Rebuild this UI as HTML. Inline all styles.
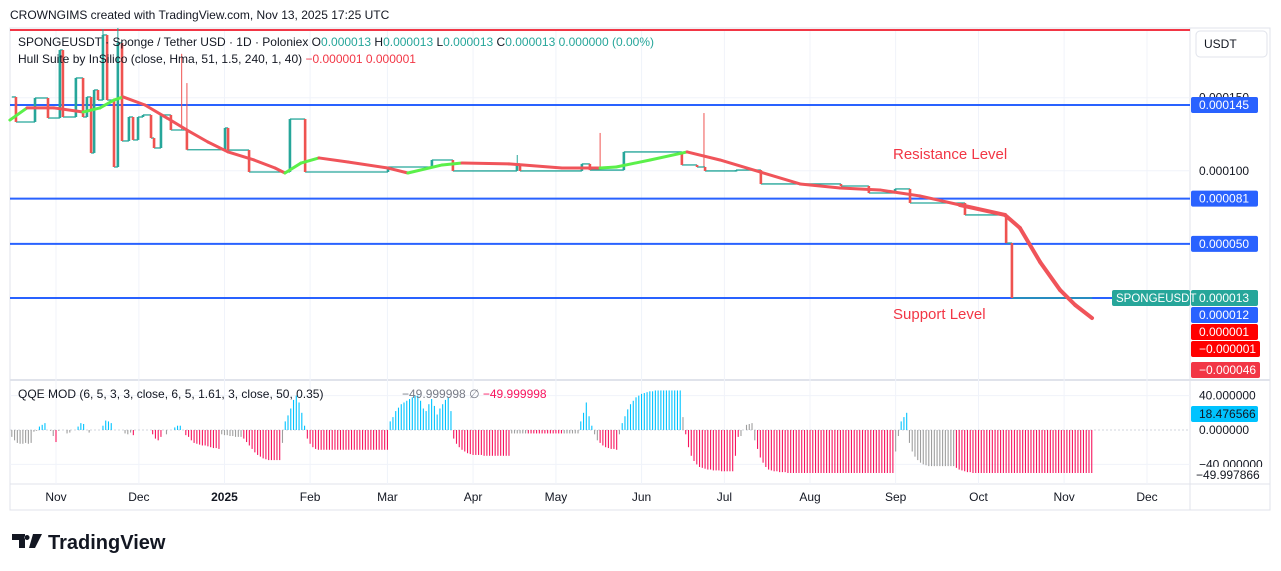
<!DOCTYPE html>
<html><head><meta charset="utf-8"><style>
html,body{margin:0;padding:0;background:#fff;width:1281px;height:571px;overflow:hidden;font-family:"Liberation Sans",sans-serif}
svg{display:block}
text{font-family:"Liberation Sans",sans-serif}
</style></head><body>
<svg id="c" width="1281" height="571" viewBox="0 0 1281 571">
<text x="10" y="19" font-size="12" fill="#131722">CROWNGIMS created with TradingView.com, Nov 13, 2025 17:25 UTC</text>
<rect x="10" y="28" width="1260" height="482" fill="none" stroke="#e0e3eb"/>
<line x1="1190" y1="28" x2="1190" y2="510" stroke="#e0e3eb"/>
<line x1="10" y1="380" x2="1270" y2="380" stroke="#e0e3eb" stroke-width="2"/>
<line x1="10" y1="484" x2="1270" y2="484" stroke="#e0e3eb"/>
<g id="grid"></g>
<g id="levels"></g>
<g id="candles"></g>
<g id="hull"></g>
<g id="qqe"></g>
<g id="axes"></g>
<text x="18" y="46" font-size="12" fill="#131722">SPONGEUSDT · Sponge / Tether USD · 1D · Poloniex  O<tspan fill="#26a69a">0.000013</tspan>  H<tspan fill="#26a69a">0.000013</tspan>  L<tspan fill="#26a69a">0.000013</tspan>  C<tspan fill="#26a69a">0.000013  0.000000 (0.00%)</tspan></text>
<text x="18" y="63" font-size="12" fill="#131722">Hull Suite by InSilico (close, Hma, 51, 1.5, 240, 1, 40)  <tspan fill="#f23645">−0.000001  0.000001</tspan></text>
<text x="18" y="398" font-size="12" fill="#131722">QQE MOD (6, 5, 3, 3, close, 6, 5, 1.61, 3, close, 50, 0.35)</text>
<text x="402" y="398" font-size="12" fill="#787b86">−49.999998  ∅  <tspan fill="#f7145e">−49.999998</tspan></text>
<text x="893" y="159" font-size="15" fill="#f23645">Resistance Level</text>
<text x="893" y="319" font-size="15" fill="#f23645">Support Level</text>
<rect x="1196" y="31" width="71" height="26" rx="4" fill="#fff" stroke="#e0e3eb"/>
<text x="1204" y="48" font-size="12" fill="#131722">USDT</text>
<g>
<path d="M12 534h13v14h-6v-8h-7z M27 535 a2.5 2.5 0 1 0 0.1 0z M33 534h9l-7 14h-6z" fill="#131722"/>
<text x="48" y="549" font-size="20" font-weight="bold" fill="#131722">TradingView</text>
</g>
</svg>
<script>
// price step data: day index (days since 2024-11-01) and close
const stepDays=[-16,-14.5,-7.6,-2.9,1.4,2.5,7.2,9.8,11.2,12.7,13.8,15.2,17,18.5,21,22.4,23.9,26.4,27.9,29.7,31.5,34.4,35.5,38,41.6,47.4,61.2,62.3,69.9,84.7,90.2,120.2,136.1,143.7,166.9,168,190.4,193.3,205.6,226.6,232.1,235,246.2,255.2,284.2,294.3,303.8,309.2,329.1,344,346.1];
const stepClose=[150.5,133.4,149.8,136.1,182.6,136.8,163.5,136.8,150.5,112.2,155.3,148.4,192.9,148.4,102.6,187.4,120.4,136.8,121.1,136.8,138.2,122.4,115.6,138.2,127.9,114.4,129.3,114.2,99.2,135.4,99.2,102.6,107.4,99.9,104.7,99.9,104.7,100.5,112.9,104,102.6,99.9,100.5,91,89.6,84.8,87.6,78,69.8,50.6,13];
const wickDays=[22.4,45.5,47.4,197,167,234.6,17];
const wickHigh=[197.7,180,160,125.9,110.8,139.5,197];
const lastDay=375.1;
// hull moving average
const hullDays=[-16.7,-10.5,-0.7,9.8,15.9,21,24.3,32.2,40.2,47.4,55,62.3,71.7,79.3,82.9,88.7,95.2,105.7,120.2,127.4,139.8,147,164,183.2,197,202.8,215.1,228.5,240.4,254.9,269.4,283.9,298.3,312.8,327.3,343.6,349,356.3,363.5,369,375.1];
const hullVals=[134.7,143,143,140.2,143,148.4,150.5,145,136.1,127.9,119.7,112.9,107.4,101.9,98.5,105.3,108.8,106,101.9,98.5,104,105.3,104.7,101.9,101.9,102.6,107.4,112.9,107.4,99.2,91,88.2,86.9,82.8,76.6,69.8,60.9,37.6,18.5,8.2,-0.7];
// levels (price x1e-6)
const levelVals=[145,81,50,13];
const levelLabels=["0.000145","0.000081","0.000050","0.000012"];
const monthLabels=["Nov","Dec","2025","Feb","Mar","Apr","May","Jun","Jul","Aug","Sep","Oct","Nov","Dec"];
const monthDays=[0,30,61,92,120,151,181,212,242,273,304,334,365,395];
// QQE histogram segments: colour code + consecutive daily values, starting day -16
const qqeStart=-16;
const qqeCodes=["g","g","b","g","g","p","g","b","g","b","g","g","p","g","p","g","b","g","p","g","p","g","b","p","b","p","g","p","g","b","g","p","g","b","g","p","g","g","g","p","g","g","b","g","g","p"];
const qqeVals=[
[-8,-12,-15,-16,-16,-15,-16,-15,-2,-1],
[],[4,6,8],[0,-1,-7],[],[-14],
[-1,0,0,-4,-3,0,0],[4,8,7],[0,-3,0,0,0,0],[5,11,10,8],[0,0,0,0,-4,-5,-3],[],[-6],[0,0,0,0,0,0],[-5,-10,-12,-8],[0,-5,0,0],[3,5,5],[0],
[-6,-8,-12,-15,-16,-17,-18,-18,-19,-20,-21,-21,-22],[-5,-6,-6,-7,-7,-8,-8,-8],
[-10,-14,-18,-22,-26,-29,-31,-33,-34,-35,-35,-35,-35,-35],[-15],[10,17,25,35,40,32,20,5],
[-10,-16,-20,-22,-23,-23,-23,-23,-23,-23,-23,-23,-23,-23,-23,-23,-23,-23,-23,-23,-23,-23,-23,-23,-23,-23,-23,-23,-23,-23],
[10,15,22,26,30,32,34,36,38,40,40,34,25,22,30,36,28,18,25,30,35,38,22],
[-10,-16,-20,-23,-25,-27,-28,-29,-29,-29,-29,-30,-30,-30,-30,-30,-30,-30,-30,-30,-30],
[-4,-4,-4,-4,-4,-4],[-4,-4,-4,-4,-4,-4,-4,-4,-4,-4,-4,-4,-4],[-4,-4,-4,-4,-4,-4],
[10,20,32,16,5],[-5,-12],[-15,-18,-20,-21,-22,-22,-23],[-5],
[8,16,24,30,34,38,40,42,43,44,45,45,46,46,46,46,46,46,46,46,46,46],[15],
[-5,-20,-30,-36,-40,-43,-44,-45,-46,-46,-47,-47,-47,-48,-48,-48,-48,-48,-30,-8],
[-7,0,6,7,8,-12],[],[],
[-22,-32,-38,-43,-46,-47,-48,-48,-49,-49,-49,-50,-50,-50,-50,-50,-50,-50,-50,-50,-50,-50,-50,-50,-50,-50,-50,-50,-50,-50,-50,-50,-50,-50,-50,-50,-50,-50,-50,-50,-50,-50,-50,-50,-50,-50,-50,-50,-50,-50],
[-25,-7],[],[10,15,20],
[-15,-25,-31,-35,-38,-40,-41,-42,-42,-42,-42,-42,-42,-42,-42,-42,-42],[],
[-44,-46,-47,-48,-49,-49,-50,-50,-50,-50,-50,-50,-50,-50,-50,-50,-50,-50,-50,-50,-50,-50,-50,-50,-50,-50,-50,-50,-50,-50,-50,-50,-50,-50,-50,-50,-50,-50,-50,-50,-50,-50,-50,-50,-50,-50,-50,-50,-50,-50]
];

const NS="http://www.w3.org/2000/svg";
function xS(d){return 56+d*2.762;}
function yP(v){return 317-v*1.462;}
function yQ(v){return 430-v*0.86;}
function mk(tag,parent,attrs){const e=document.createElementNS(NS,tag);for(const k in attrs)e.setAttribute(k,attrs[k]);document.getElementById(parent).appendChild(e);return e;}

// grid
monthDays.forEach((d,i)=>{const x=xS(d);if(x>1188)return;
 const g=mk('line','grid',{x1:x,y1:28,x2:x,y2:484,stroke:'#f0f3fa'});
 
 
 const t=mk('text','axes',{x:x,y:501,'font-size':12,'text-anchor':'middle',fill:'#131722','font-weight':monthLabels[i]==='2025'?'bold':'normal'});
 t.textContent=monthLabels[i];
 
 
});
[150,100].forEach(v=>{const h=mk('line','grid',{x1:10,y1:yP(v),x2:1190,y2:yP(v),stroke:'#f0f3fa'});
 
 
 const t=mk('text','axes',{x:1199,y:yP(v)+4,'font-size':12,fill:'#131722'});t.textContent=(v/1e6).toFixed(6);
 
 });
[40,-40].forEach(v=>{const h=mk('line','grid',{x1:10,y1:yQ(v),x2:1190,y2:yQ(v),stroke:'#f0f3fa'});
 
 });
const z=mk('line','grid',{x1:10,y1:yQ(0),x2:1190,y2:yQ(0),stroke:'#d1d4dc','stroke-dasharray':'2,2'});



// top red line
const tl=mk('line','levels',{x1:10,y1:30,x2:1190,y2:30,stroke:'#f23645','stroke-width':2});


levelVals.forEach(v=>{const l=mk('line','levels',{x1:10,y1:yP(v),x2:1190,y2:yP(v),stroke:'#2962ff','stroke-width':2});
 
 });

// wicks
wickDays.forEach((d,i)=>{let j=0;for(let k=0;k<stepDays.length;k++)if(stepDays[k]<=d)j=k;
 const w=mk('line','candles',{x1:xS(d),y1:yP(wickHigh[i]),x2:xS(d),y2:yP(stepClose[j]),stroke:stepClose[j]>=(stepClose[j-1]||0)?'#26a69a':'#ef5350','stroke-width':1});
 
 });
// steps
stepDays.forEach((d,i)=>{const next=i+1<stepDays.length?stepDays[i+1]:lastDay;const c=stepClose[i];
 const h=mk('line','candles',{x1:xS(d),y1:yP(c),x2:xS(next),y2:yP(c),stroke:'#26a69a','stroke-width':1.3});
 
 
 if(i>0){const p=stepClose[i-1];const up=c>=p;
  const b=mk('rect','candles',{x:xS(d)-1.3,y:Math.min(yP(c),yP(p)),width:2.6,height:Math.max(1.5,Math.abs(yP(c)-yP(p))),fill:up?'#26a69a':'#ef5350'});
  
  }
});
// hull
for(let i=1;i<hullDays.length;i++){const up=hullVals[i]>hullVals[i-1];
 const s=mk('line','hull',{x1:xS(hullDays[i-1]),y1:yP(hullVals[i-1]),x2:xS(hullDays[i]),y2:yP(hullVals[i]),stroke:up?'#5bf04a':'#f0545a','stroke-width':i>=35?4:3,'stroke-linecap':'round'});
 
 }
// qqe
const qcol={g:'#9e9e9e',b:'#00c3ff',p:'#f7145e'};
let day=qqeStart;
qqeVals.forEach((seg,si)=>{seg.forEach(v=>{const x=xS(day);
 const b=mk('line','qqe',{x1:x,y1:yQ(0),x2:x,y2:yQ(v),stroke:qcol[qqeCodes[si]]||'#9e9e9e','stroke-width':1.1});
 
 
 day++;});});

// right labels
function lab(y,txt,bg,w,fg){const r=mk('rect','axes',{x:1191,y:y-8,width:w||67,height:16,rx:2,fill:bg});
 
 
 const t=mk('text','axes',{x:1199,y:y+4,'font-size':12,fill:fg||'#fff'});t.textContent=txt;
 
 }
lab(yP(145),levelLabels[0],'#2962ff');lab(yP(81),levelLabels[1],'#2962ff');lab(yP(50),levelLabels[2],'#2962ff');
lab(298,'0.000013','#26a69a');lab(315,levelLabels[3],'#2962ff');lab(332,'0.000001','#ff0000');lab(349,'−0.000001','#ff0000',69);lab(370,'−0.000046','#f23645',69);
const sl=mk('rect','axes',{x:1112,y:290,width:78,height:16,rx:2,fill:'#26a69a'});


const st=mk('text','axes',{x:1116,y:302,'font-size':11.5,fill:'#fff'});st.textContent='SPONGEUSDT';


[[40,'40.000000'],[0,'0.000000'],[-40,'−40.000000']].forEach(a=>{const t=mk('text','axes',{x:1199,y:yQ(a[0])+4,'font-size':12,fill:'#131722'});t.textContent=a[1];
 
 });
lab(414,'18.476566','#00c3ff',67,'#131722');
const r2=mk('rect','axes',{x:1192,y:467,width:70,height:13,fill:'#fff'});


const t2=mk('text','axes',{x:1196,y:479,'font-size':12,fill:'#131722'});t2.textContent='−49.997866';


</script>
</body></html>
